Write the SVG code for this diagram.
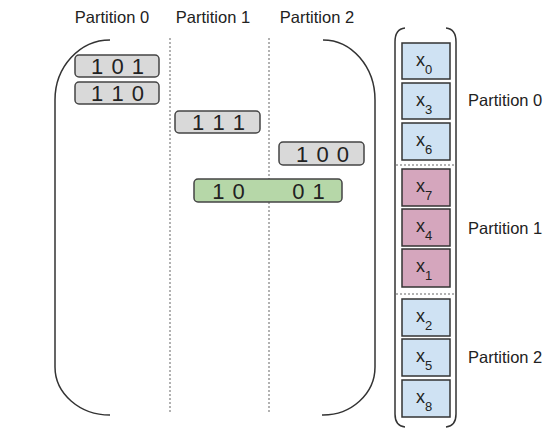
<svg xmlns="http://www.w3.org/2000/svg" width="550" height="430" viewBox="0 0 550 430">
<style>
text{font-family:"Liberation Sans",Arial,sans-serif;fill:#222}
.hdr{font-size:16.5px;text-anchor:middle}
.lbl{font-size:16.5px}
.bits{font-size:22px;text-anchor:middle;letter-spacing:1px}
.gray{fill:#d9d9d9;stroke:#444;stroke-width:1.5}
.green{fill:#b6d7a8;stroke:#444;stroke-width:1.5}
.blue{fill:#cfe2f3;stroke:#333;stroke-width:1.5}
.pink{fill:#d5a6bd;stroke:#333;stroke-width:1.5}
.br{fill:none;stroke:#333;stroke-width:1.5}
.dot{fill:none;stroke:#999;stroke-width:1.5;stroke-dasharray:2 2}
.xv{font-size:18px}
.sub{font-size:13px}
</style>
<rect width="550" height="430" fill="#fff"/>
<g id="headers">
<text class="hdr" x="112" y="23">Partition 0</text>
<text class="hdr" x="213" y="23">Partition 1</text>
<text class="hdr" x="317" y="23">Partition 2</text>
</g>
<g id="matrix-bracket">
<path class="br" d="M110,40 A55,60 0 0 0 55,100 L55,367 A55,48 0 0 0 110,415"/>
<path class="br" d="M323,40 A52,60 0 0 1 375,100 L375,367 A52,48 0 0 1 322,415"/>
</g>
<g id="separators">
<line class="dot" x1="170" y1="38" x2="170" y2="414"/>
<line class="dot" x1="269" y1="38" x2="269" y2="414"/>
</g>
<g id="row-101"><rect class="gray" x="75" y="55" width="84" height="22" rx="4"/><text class="bits" x="118" y="74">1 0 1</text></g>
<g id="row-110"><rect class="gray" x="75" y="82" width="84" height="22" rx="4"/><text class="bits" x="118" y="101">1 1 0</text></g>
<g id="row-111"><rect class="gray" x="175" y="111" width="85" height="22" rx="4"/><text class="bits" x="219" y="130">1 1 1</text></g>
<g id="row-100"><rect class="gray" x="279" y="142" width="85" height="23" rx="4"/><text class="bits" x="323" y="162">1 0 0</text></g>
<g id="row-1001"><rect class="green" x="194" y="179" width="148" height="23" rx="4"/><text class="bits" x="229" y="199">1 0</text><text class="bits" x="309" y="199">0 1</text></g>
<g id="vector-bracket">
<path class="br" d="M395,42 Q395,29 405,28 M446,28 Q456,29 456,42 M395,42 L395,414 M456,42 L456,414 M395,414 Q395,426 405,427 M456,414 Q456,426 446,427"/>
<line class="dot" x1="396" y1="165" x2="455" y2="165"/>
<line class="dot" x1="396" y1="294" x2="455" y2="294"/>
</g>
<g id="x0"><rect class="blue" x="402" y="43" width="48" height="36"/><text class="xv" x="416" y="66">x<tspan class="sub" dy="8">0</tspan></text></g>
<g id="x3"><rect class="blue" x="402" y="83" width="48" height="36"/><text class="xv" x="416" y="106">x<tspan class="sub" dy="8">3</tspan></text></g>
<g id="x6"><rect class="blue" x="402" y="123" width="48" height="37"/><text class="xv" x="416" y="146">x<tspan class="sub" dy="8">6</tspan></text></g>
<g id="x7"><rect class="pink" x="402" y="169" width="48" height="37"/><text class="xv" x="416" y="192">x<tspan class="sub" dy="8">7</tspan></text></g>
<g id="x4"><rect class="pink" x="402" y="209" width="48" height="37"/><text class="xv" x="416" y="232">x<tspan class="sub" dy="8">4</tspan></text></g>
<g id="x1"><rect class="pink" x="402" y="249" width="48" height="38"/><text class="xv" x="416" y="272">x<tspan class="sub" dy="8">1</tspan></text></g>
<g id="x2"><rect class="blue" x="402" y="299" width="48" height="37"/><text class="xv" x="416" y="322">x<tspan class="sub" dy="8">2</tspan></text></g>
<g id="x5"><rect class="blue" x="402" y="339" width="48" height="37"/><text class="xv" x="416" y="362">x<tspan class="sub" dy="8">5</tspan></text></g>
<g id="x8"><rect class="blue" x="402" y="380" width="48" height="37"/><text class="xv" x="416" y="403">x<tspan class="sub" dy="8">8</tspan></text></g>
<g id="labels">
<text class="lbl" x="468" y="106">Partition 0</text>
<text class="lbl" x="468" y="234">Partition 1</text>
<text class="lbl" x="468" y="363">Partition 2</text>
</g>
</svg>
